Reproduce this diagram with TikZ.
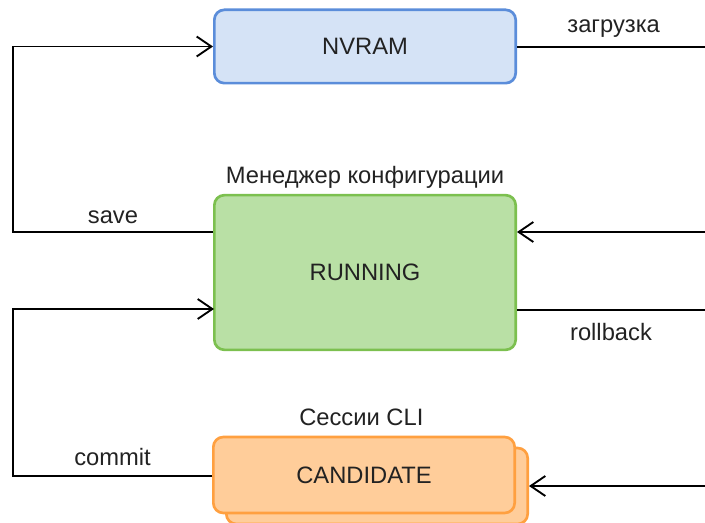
\documentclass[tikz,border=0pt]{standalone}
\usepackage{fontspec}
\setmainfont{Liberation Sans}
\usetikzlibrary{arrows.meta}
\definecolor{nvfill}{HTML}{D5E3F6}
\definecolor{nvline}{HTML}{5B8DDA}
\definecolor{runfill}{HTML}{B9E0A5}
\definecolor{runline}{HTML}{7CC04F}
\definecolor{candfill}{HTML}{FFCD9A}
\definecolor{candline}{HTML}{FFA040}
\definecolor{txt}{HTML}{222222}
\begin{document}
\begin{tikzpicture}
[x=0.75pt, y=-0.75pt, >={Straight Barb[length=11pt,width=15pt]},
 box/.style={rounded corners=7.5pt, line width=2pt, minimum width=226pt, text=txt, font=\fontsize{17.8}{20}\selectfont},
 lbl/.style={text=txt, font=\fontsize{17.8}{20}\selectfont, inner sep=0pt, anchor=base},
 line width=1.4pt]
\useasboundingbox (0,0) rectangle (705,523);
\clip (0,0) rectangle (705,523);
\node[box, draw=nvline, fill=nvfill, minimum height=55pt] (nvram) at (365,46.5) {NVRAM};
\node[box, draw=runline, fill=runfill, minimum height=116pt] (running) at (365,272.5) {RUNNING};
\node[box, draw=candline, fill=candfill, minimum height=57pt] (candback) at (377,486) {};
\node[box, draw=candline, fill=candfill, minimum height=57pt] (cand) at (364,475) {CANDIDATE};
\node[lbl] (mgr) at ([yshift=7.5pt]running.north) {Менеджер конфигурации};
\node[lbl] (cli) at ([yshift=7.5pt,xshift=-2pt]cand.north) {Сессии CLI};
\coordinate (saveL) at (13,232);
\coordinate (commitL) at (13,476);
\coordinate (runIn) at (214,309);
\coordinate (rgtA) at (705,47);
\coordinate (rgtB) at (705,232);
\coordinate (rgtC) at (705,310);
\coordinate (rgtD) at (705,486);
\draw[->] (running.west |- saveL) -- node[lbl, yshift=6pt] {save} (saveL) |- (nvram.west);
\draw[->] (cand.west |- commitL) -- node[lbl, yshift=8.2pt] {commit} (commitL) |- (runIn);
\draw (nvram.east |- rgtA) -- node[lbl, yshift=10.5pt, xshift=2pt] {загрузка} (rgtA);
\draw[->] (rgtB) -- (running.east |- rgtB);
\draw (running.east |- rgtC) -- node[lbl, yshift=-22.5pt] {rollback} (rgtC);
\draw[->] (rgtD) -- (candback.east |- rgtD);
\end{tikzpicture}
\end{document}
